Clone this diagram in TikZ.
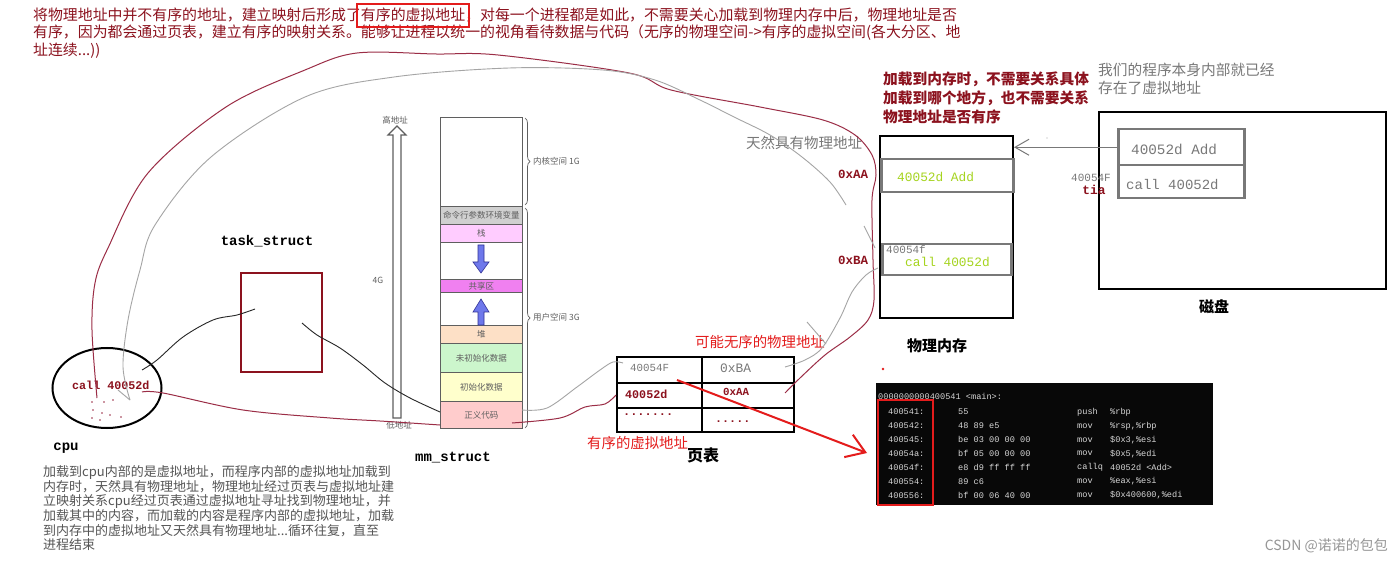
\documentclass[tikz,border=0pt]{standalone}
\usepackage{fontspec}
\setmainfont{Liberation Serif}
\newfontfamily\cjk{Noto Sans CJK SC}
\newfontfamily\mono{Liberation Mono}
\usetikzlibrary{arrows.meta,decorations.pathreplacing,shapes.geometric}
\definecolor{dred}{RGB}{140,18,30}
\definecolor{cred}{RGB}{155,45,70}
\definecolor{bred}{RGB}{228,28,28}
\definecolor{ygreen}{RGB}{165,212,30}
\definecolor{tgray}{RGB}{120,120,120}
\definecolor{lgray}{RGB}{165,165,165}
\definecolor{mgray}{RGB}{95,95,95}
\definecolor{pgray}{RGB}{85,85,85}
\definecolor{wgray}{RGB}{150,150,150}
\definecolor{codebg}{RGB}{8,8,8}
\definecolor{codefg}{RGB}{215,215,215}
\definecolor{argvc}{RGB}{208,208,208}
\definecolor{stackc}{RGB}{255,204,255}
\definecolor{sharec}{RGB}{240,128,240}
\definecolor{heapc}{RGB}{253,224,198}
\definecolor{bssc}{RGB}{204,246,204}
\definecolor{datac}{RGB}{255,255,204}
\definecolor{codec}{RGB}{255,204,204}
\definecolor{bluef}{RGB}{110,120,235}
\definecolor{blued}{RGB}{50,50,150}
\begin{document}
\begin{tikzpicture}[x=1pt,y=-1pt,
  cjk/.style={font=\cjk\fontsize{#1}{#1}\selectfont, inner sep=0},
  cjkb/.style={font=\cjk\bfseries\fontsize{#1}{#1}\selectfont, inner sep=0},
  mn/.style={font=\mono\fontsize{#1}{#1}\selectfont, inner sep=0},
  mnb/.style={font=\mono\bfseries\fontsize{#1}{#1}\selectfont, inner sep=0},
  cell/.style={draw, line width=2pt, inner sep=0, anchor=north west},
  gcell/.style={draw=tgray, line width=2.5pt, inner sep=0, anchor=north west},
  seg/.style={draw=mgray, line width=0.8pt, inner sep=0, anchor=north west, minimum width=82pt, font=\cjk\fontsize{8.5}{8.5}\selectfont, text=mgray},
  para/.style={cjk=13, text=pgray, anchor=west},
  redline/.style={cred, line width=1pt, line join=round},
  grayline/.style={lgray, line width=0.9pt, line join=round},
  blkline/.style={black!85, line width=0.9pt, line join=round},
]
\fill[white] (0,0) rectangle (1400,561);
\useasboundingbox (0,0) rectangle (1400,561);

% ---------- top text ----------
\node[cjk=14.9, text=dred, anchor=west] (t1) at (33,15) {将物理地址中并不有序的地址，建立映射后形成了有序的虚拟地址，对每一个进程都是如此，不需要关心加载到物理内存中后，物理地址是否};
\node[cjk=14.9, text=dred, anchor=west] (t2) at (33,33) {有序，因为都会通过页表，建立有序的映射关系。能够让进程以统一的视角看待数据与代码（无序的物理空间->有序的虚拟空间(各大分区、地};
\node[cjk=14.9, text=dred, anchor=west] (t3) at (33,51) {址连续...))};
\draw[bred, line width=1.8pt] (357,4) rectangle (469,27);

% ---------- memory layout ----------
\node[seg, minimum height=89pt, fill=white] (kern) at (440,117) {};
\node[seg, minimum height=18pt, fill=argvc] (argv) at (440,206) {命令行参数环境变量};
\node[seg, minimum height=18pt, fill=stackc] (stk) at (440,224) {栈};
\node[seg, minimum height=37pt, fill=white] (gap1) at (440,242) {};
\node[seg, minimum height=13pt, fill=sharec] (shm) at (440,279) {共享区};
\node[seg, minimum height=33pt, fill=white] (gap2) at (440,292) {};
\node[seg, minimum height=18pt, fill=heapc] (heap) at (440,325) {堆};
\node[seg, minimum height=29pt, fill=bssc] (bss) at (440,343) {未初始化数据};
\node[seg, minimum height=29pt, fill=datac] (data) at (440,372) {初始化数据};
\node[seg, minimum height=27pt, fill=codec] (code) at (440,401) {正义代码};
\draw[blued, fill=bluef, line width=0.6pt] (478,245) -- (484,245) -- (484,262) -- (489,262) -- (481,273) -- (473,262) -- (478,262) -- cycle;
\draw[blued, fill=bluef, line width=0.6pt] (478,325) -- (484,325) -- (484,312) -- (489,312) -- (481,299) -- (473,312) -- (478,312) -- cycle;
\draw[mgray, line width=0.7pt, decorate, decoration={brace, amplitude=5pt}] (525,118) -- (525,205);
\draw[mgray, line width=0.7pt, decorate, decoration={brace, amplitude=5pt}] (525,208) -- (525,428);
\node[cjk=8.5, text=mgray, anchor=west] (lk) at (533,161) {内核空间 1G};
\node[cjk=8.5, text=mgray, anchor=west] (lu) at (533,317) {用户空间 3G};
\draw[mgray, fill=white, line width=1.1pt] (393,418) -- (401,418) -- (401,135) -- (406,135) -- (397,126) -- (388,135) -- (393,135) -- cycle;
\node[cjk=8.5, text=mgray] (hi) at (395,120) {高地址};
\node[cjk=8.5, text=mgray] (lo) at (399,425) {低地址};
\node[cjk=8.5, text=mgray] (fg) at (378,280) {4G};
\node[mnb=14] (mms) at (453,458) {mm\_struct};

% ---------- task_struct & cpu ----------
\node[mnb=14] (tsl) at (267,241) {task\_struct};
\node[draw=dred, line width=2pt, inner sep=0, anchor=north west, minimum width=81pt, minimum height=99pt] (ts) at (240,272) {};
\node[draw, ellipse, line width=2pt, minimum width=109pt, minimum height=80pt] (cpu) at (107,388) {};
\node[mnb=11.7, text=dred, anchor=west] (call) at (72,385) {call 40052d};
\node[mnb=14] (cpul) at (66,448) {cpu};
\foreach \px/\py in {92/402,104/402,113/400,93/410,102/413,110/415,92/418,100/420,121/417}
  \fill[cred] (\px,\py) circle (0.8);

% left paragraph
\node[para] (par1) at (43,472) {加载到cpu内部的是虚拟地址，而程序内部的虚拟地址加载到};
\node[para] (par2) at (43,487) {内存时，天然具有物理地址，物理地址经过页表与虚拟地址建};
\node[para] (par3) at (43,501) {立映射关系cpu经过页表通过虚拟地址寻址找到物理地址，并};
\node[para] (par4) at (43,516) {加载其中的内容，而加载的内容是程序内部的虚拟地址，加载};
\node[para] (par5) at (43,531) {到内存中的虚拟地址又天然具有物理地址...循环往复，直至};
\node[para] (par6) at (43,545) {进程结束};

% ---------- page table ----------
\node[cell, minimum width=85pt, minimum height=26pt] (p11) at (616,356) {};
\node[cell, minimum width=92pt, minimum height=26pt] (p12) at (701,356) {};
\node[cell, minimum width=85pt, minimum height=25pt] (p21) at (616,382) {};
\node[cell, minimum width=92pt, minimum height=25pt] (p22) at (701,382) {};
\node[cell, minimum width=85pt, minimum height=24pt] (p31) at (616,407) {};
\node[cell, minimum width=92pt, minimum height=24pt] (p32) at (701,407) {};
\node[mn=10.8, text=tgray, anchor=west] (v1) at (630,368) {40054F};
\node[mn=12.9, text=tgray, anchor=west] (f1) at (720,368) {0xBA};
\node[mnb=11.7, text=dred, anchor=west] (v2) at (625,394) {40052d};
\node[mnb=10.8, text=dred, anchor=west] (f2) at (723,392) {0xAA};
\node[mnb=11.9, text=dred, anchor=west] (v3) at (623,415) {.......};
\node[mnb=11.7, text=dred, anchor=west] (f3) at (715,422) {.....};
\node[cjk=14.4, text=bred, anchor=west] (ptl1) at (695,342) {可能无序的物理地址};
\node[cjk=14.4, text=bred, anchor=west] (ptl2) at (587,443) {有序的虚拟地址};
\node[cjkb=16] (ptl3) at (703,455) {页表};

% ---------- physical memory ----------
\node[cell, minimum width=133pt, minimum height=182pt] (pm) at (879,135) {};
\node[gcell, minimum width=132pt, minimum height=33pt] (pmA) at (880,158) {};
\node[gcell, minimum width=129pt, minimum height=31pt] (pmB) at (881,243) {};
\node[mn=12.8, text=ygreen, anchor=west] (pmAt) at (897,177) {40052d Add};
\node[mn=11, text=tgray, anchor=west] (pmBa) at (886,250) {40054f};
\node[mn=12.8, text=ygreen, anchor=west] (pmBt) at (905,262) {call 40052d};
\node[mnb=12.5, text=dred] (xaa) at (853,174) {0xAA};
\node[mnb=12.5, text=dred] (xba) at (853,260) {0xBA};
\node[cjkb=15] (pml) at (937,346) {物理内存};
\node[cjkb=14.7, text=dred, anchor=west] (r1) at (883,79) {加载到内存时，不需要关系具体};
\node[cjkb=14.7, text=dred, anchor=west] (r2) at (883,98) {加载到哪个地方，也不需要关系};
\node[cjkb=14.7, text=dred, anchor=west] (r3) at (883,117) {物理地址是否有序};
\node[cjk=14.5, text=tgray, anchor=west] (nat) at (746,143) {天然具有物理地址};
\fill[bred] (883,369) circle (1.3);

% ---------- disk ----------
\node[cell, minimum width=287pt, minimum height=177pt] (disk) at (1098,111) {};
\node[gcell, minimum width=126pt, minimum height=36pt] (dA) at (1117,128) {};
\node[gcell, minimum width=126pt, minimum height=33pt] (dB) at (1117,164) {};
\node[mn=14.3, text=tgray, anchor=west] (dAt) at (1131,149) {40052d Add};
\node[mn=14, text=tgray, anchor=west] (dBt) at (1126,185) {call 40052d};
\node[mn=11, text=tgray] (dadr) at (1091,178) {40054F};
\node[mnb=12.8, text=dred] (tia) at (1094,190) {tia};
\node[cjkb=15] (diskl) at (1214,307) {磁盘};
\node[cjk=14.7, text=tgray, anchor=west] (g1) at (1098,70) {我们的程序本身内部就已经};
\node[cjk=14.7, text=tgray, anchor=west] (g2) at (1098,88) {存在了虚拟地址};
\draw[tgray, line width=1pt, -{Straight Barb[length=14pt,width=16pt]}] (dA.west) -- (pm.east |- dA.west);
\fill[lgray] (1047,138) circle (0.7);

% ---------- objdump ----------
\node[fill=codebg, inner sep=0, anchor=north west, minimum width=337pt, minimum height=122pt] (asm) at (876,383) {};
\node[mn=8.6, text=codefg, anchor=west] (hdr) at (878,396) {0000000000400541 <main>:};
\foreach \i/\ad/\by/\mo/\op in {0/400541:/55/push/{\%rbp},
  1/400542:/48 89 e5/mov/{\%rsp,\%rbp},
  2/400545:/be 03 00 00 00/mov/{\$0x3,\%esi},
  3/40054a:/bf 05 00 00 00/mov/{\$0x5,\%edi},
  4/40054f:/e8 d9 ff ff ff/callq/{40052d <Add>},
  5/400554:/89 c6/mov/{\%eax,\%esi},
  6/400556:/bf 00 06 40 00/mov/{\$0x400600,\%edi}}
{
  \node[mn=8.6, text=codefg, anchor=west] (ca\i) at (888,412+13.9*\i) {\ad};
  \node[mn=8.6, text=codefg, anchor=west] (cb\i) at (958,412+13.9*\i) {\by};
  \node[mn=8.6, text=codefg, anchor=west] (cc\i) at (1077,412+13.9*\i) {\mo};
  \node[mn=8.6, text=codefg, anchor=west] (cd\i) at (1110,412+13.9*\i) {\op};
}
\draw[bred, line width=1.8pt] (878,400) rectangle (933,505);

% ---------- hand-drawn connectors ----------
\coordinate (cpuR) at (97,398);
\coordinate (ptAAr) at (785,393);
\draw[redline] plot[smooth, tension=0.55] coordinates {(cpuR) (92,330) (95,283) (108,248) (148,173) (226,107) (305,70) (357,53) (436,54) (498,55) (629,73) (671,90) (760,107) (823,120) (855,135) (872,155) (876,175) (872,200) (873,260) (874,300) (868,320) (850,337) (825,355) (800,378) (ptAAr)};
\coordinate (cpuG) at (130,400);
\coordinate (natE) at (846,205);
\draw[grayline] plot[smooth, tension=0.55] coordinates {(cpuG) (123,367) (128,320) (140,270) (155,225) (211,157) (305,97) (394,77) (509,68) (603,70) (655,80) (700,100) (734,117) (770,135) (802,157) (830,182) (natE)};
\draw[grayline] (118,390) -- (cpuG);
\draw[grayline] (864,226) -- (875,248);
\coordinate (ptBAr) at (785,367);
\coordinate (pmBl) at (878,268);
\draw[grayline] plot[smooth, tension=0.55] coordinates {(ptBAr) (805,360) (822,348) (840,318) (852,292) (866,275) (pmBl)};
\draw[grayline] (807,322) -- (826,344);
\coordinate (codeR) at (522,410);
\coordinate (p11L) at (623,363);
\draw[grayline] plot[smooth, tension=0.55] coordinates {(codeR) (547,408) (577,387) (600,370) (613,362) (p11L)};
\coordinate (cpuC) at (142,392);
\coordinate (codeL) at (440,425);
\draw[redline] plot[smooth, tension=0.55] coordinates {(cpuC) (163,393) (243,410) (330,418) (380,421) (codeL)};
\coordinate (codeIn) at (512,423);
\coordinate (p21L) at (616,395);
\draw[redline] plot[smooth, tension=0.55] coordinates {(codeIn) (560,418) (585,407) (605,404) (p21L)};
\coordinate (cpuB) at (142,370);
\coordinate (tsIn) at (255,309);
\draw[blkline] plot[smooth, tension=0.55] coordinates {(cpuB) (157,360) (183,337) (213,320) (237,315) (tsIn)};
\coordinate (tsIn2) at (302,323);
\coordinate (codeL2) at (440,412);
\draw[blkline] plot[smooth, tension=0.55] coordinates {(tsIn2) (317,335) (340,348) (363,365) (385,383) (410,398) (codeL2)};
\coordinate (arrS) at (677,380);
\coordinate (arrE) at (867,453);
\draw[bred, line width=2pt, -{Straight Barb[length=18pt,width=24pt]}] (arrS) -- (arrE);

% watermark
\node[cjk=14, text=wgray, anchor=east] (wm) at (1388,546) {CSDN @诺诺的包包};
\end{tikzpicture}
\end{document}
